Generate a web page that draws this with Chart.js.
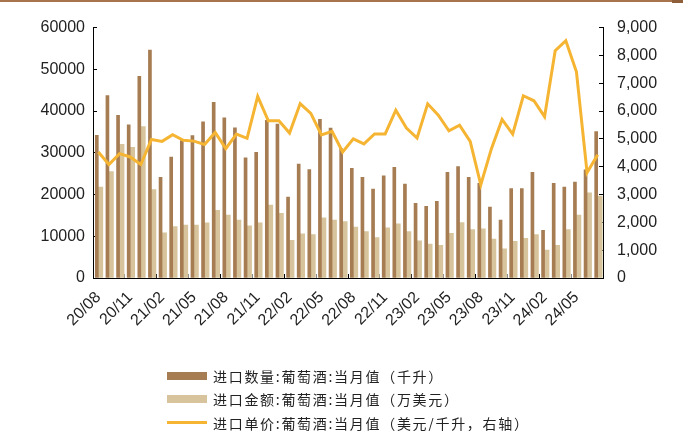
<!DOCTYPE html>
<html>
<head>
<meta charset="utf-8">
<script src="https://cdn.jsdelivr.net/npm/chart.js@4/dist/chart.umd.min.js"></script>
<style>
  html, body { margin: 0; padding: 0; background: #fff; }
  #wrap { position: relative; width: 683px; height: 431px; overflow: hidden; }
  #c { position: absolute; left: 0; top: 0; }
  #topRule { position: absolute; left: 0; top: 0; width: 683px; height: 2px; background: #A8744C; }
  #topTab { position: absolute; left: 672px; top: 0; width: 11px; height: 3px; background: #8F5F3B; }
  #legend { position: absolute; left: 167px; top: 364px; font-family: "Noto Sans CJK SC", sans-serif;
            font-size: 14px; color: #222; letter-spacing: 1.7px; }
  .row { display: flex; align-items: center; height: 23.5px; white-space: nowrap; }
  .sw { width: 40px; margin-right: 6px; flex: none; }
</style>
</head>
<body>
<div id="wrap">
  <canvas id="c" width="683" height="431"></canvas>
  <div id="topRule"></div>
  <div id="topTab"></div>
  <div id="legend"></div>
</div>
<script>
// Months, 2020/08 – 2024/07
const months = [
  '20/08','20/09','20/10','20/11','20/12','21/01','21/02','21/03','21/04','21/05','21/06','21/07',
  '21/08','21/09','21/10','21/11','21/12','22/01','22/02','22/03','22/04','22/05','22/06','22/07',
  '22/08','22/09','22/10','22/11','22/12','23/01','23/02','23/03','23/04','23/05','23/06','23/07',
  '23/08','23/09','23/10','23/11','23/12','24/01','24/02','24/03','24/04','24/05','24/06','24/07'
];

// 进口数量:葡萄酒:当月值（千升）
const importVolume = [
  34200, 43700, 39000, 36700, 48300, 54600, 24100, 29000, 32900, 34100, 37400, 42100,
  38400, 36000, 28800, 30100, 37800, 36900, 19400, 27300, 26000, 38000, 35900, 31000,
  26300, 24100, 21300, 24500, 26500, 22500, 17900, 17200, 18400, 25300, 26700, 24100,
  22700, 17000, 13900, 21400, 21400, 25300, 11400, 22700, 21800, 23000, 25900, 35100
];

// 进口金额:葡萄酒:当月值（万美元）
const importValue = [
  21800, 25500, 32000, 31300, 36300, 21200, 10800, 12300, 12700, 12700, 13200, 16200,
  15100, 13900, 12500, 13200, 17500, 15500, 9000, 10600, 10400, 14400, 13900, 13500,
  12200, 11100, 9700, 12000, 13000, 11100, 8900, 8100, 7800, 10700, 13300, 11600,
  11800, 9300, 7000, 8800, 9500, 10400, 6700, 7800, 11600, 15100, 20400, 19600
];

// 进口单价:葡萄酒:当月值（美元/千升，右轴）
const unitPrice = [
  4530, 4080, 4470, 4350, 4080, 4980, 4910, 5150, 4950, 4920, 4800, 5230,
  4650, 5170, 5020, 6530, 5650, 5650, 5210, 6270, 5920, 5140, 5270, 4530,
  5000, 4820, 5180, 5180, 6030, 5390, 5030, 6260, 5850, 5290, 5490, 4910,
  3350, 4650, 5700, 5170, 6550, 6370, 5800, 8170, 8530, 7410, 3790, 4430
];

const seriesNames = [
  '进口数量:葡萄酒:当月值（千升）',
  '进口金额:葡萄酒:当月值（万美元）',
  '进口单价:葡萄酒:当月值（美元/千升，右轴）'
];

const leftTicks = { min: 0, max: 60000, step: 10000 };
const rightTicks = { min: 0, max: 9000, step: 1000 };

const COLORS = { volume: '#A67C52', value: '#D7C49C', price: '#F5B533', axis: '#000', text: '#222' };
const tickFont = { family: '"Liberation Sans", Arial, sans-serif', size: 16 };

const PLOT = { left: 93, right: 603, top: 23, bottom: 278, W: 683, H: 431 };

const chart = new Chart(document.getElementById('c'), {
  type: 'bar',
  data: {
    labels: months,
    datasets: [
      { label: seriesNames[0], data: importVolume, backgroundColor: COLORS.volume,
        barThickness: 3, yAxisID: 'y', order: 1 },
      { label: seriesNames[1], data: importValue, backgroundColor: COLORS.value,
        barThickness: 4.5, yAxisID: 'y', order: 1 },
      { type: 'line', label: seriesNames[2], data: unitPrice, borderColor: COLORS.price,
        backgroundColor: COLORS.price, borderWidth: 3, pointRadius: 0, tension: 0,
        borderJoinStyle: 'miter', yAxisID: 'y1', order: 0 }
    ]
  },
  options: {
    responsive: false,
    animation: false,
    devicePixelRatio: 1,
    layout: { padding: { top: PLOT.top, left: 0, right: 0, bottom: 0 } },
    plugins: { legend: { display: false }, tooltip: { enabled: false } },
    scales: {
      x: {
        offset: true,
        border: { color: COLORS.axis, width: 1 },
        grid: {
          offset: true, drawOnChartArea: false, drawTicks: true, tickLength: -4,
          color: (ctx) => {
            const i = ctx.index;
            if (i > 0 && i < months.length && i % 3 === 0) return (i / 3) % 2 === 1 ? '#8a8a8a' : '#000';
            return 'rgba(0,0,0,0)';
          }
        },
        ticks: {
          autoSkip: false, maxRotation: 45, minRotation: 45, padding: 14,
          color: COLORS.text, font: { family: tickFont.family, size: 16 },
          callback: (v, i) => (i % 3 === 0 ? months[i] : '')
        },
        afterFit: (s) => { s.height = PLOT.H - PLOT.bottom; }
      },
      y: {
        position: 'left', min: leftTicks.min, max: leftTicks.max,
        border: { color: COLORS.axis, width: 1 },
        grid: { drawOnChartArea: false, drawTicks: true, tickLength: -4, color: COLORS.axis },
        ticks: { stepSize: leftTicks.step, padding: 12, color: COLORS.text, font: tickFont,
                 callback: (v) => String(v) },
        afterFit: (s) => { s.width = PLOT.left; }
      },
      y1: {
        position: 'right', min: rightTicks.min, max: rightTicks.max,
        border: { color: COLORS.axis, width: 1 },
        grid: { drawOnChartArea: false, drawTicks: true, tickLength: -4, color: COLORS.axis },
        ticks: { stepSize: rightTicks.step, padding: 18, color: COLORS.text, font: tickFont,
                 callback: (v) => Number(v).toLocaleString('en-US') },
        afterFit: (s) => { s.width = PLOT.W - PLOT.right; }
      }
    }
  }
});

// Legend rows, built from the chart's datasets
const legendEl = document.getElementById('legend');
chart.data.datasets.forEach((ds) => {
  const row = document.createElement('div');
  row.className = 'row';
  const sw = document.createElement('span');
  sw.className = 'sw';
  sw.style.background = ds.type === 'line' ? ds.borderColor : ds.backgroundColor;
  sw.style.height = ds.type === 'line' ? '3px' : '8px';
  const txt = document.createElement('span');
  txt.textContent = ds.label;
  row.appendChild(sw);
  row.appendChild(txt);
  legendEl.appendChild(row);
});
</script>
</body>
</html>
